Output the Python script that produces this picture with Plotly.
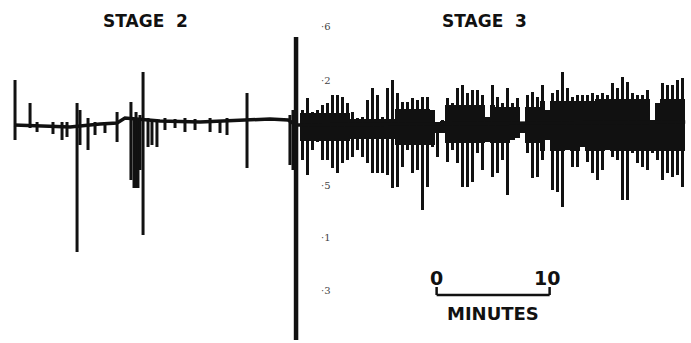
import numpy as np
import plotly.graph_objects as go

# ---------------- data (time in minutes, deflection in chart units) ----------------
# Stage 3: envelope per sampling bin (upper / lower deflection from baseline)
stage3_start_min = 25.53
stage3_bin_min = 0.4425
stage3_upper = [15, 27, 13, 15, 20, 22, 30, 30, 28, 22, 13, 7, 8, 25, 37, 30, 8, 37, 45, 32,
                23, 23, 27, 25, 28, 28, 15, 3, 5, 27, 22, 37, 40, 32, 35, 35, 30, 8, 40, 28,
                22, 37, 22, 27, 2, 30, 33, 28, 40, 15, 32, 35, 53, 37, 28, 30, 30, 30, 32, 30,
                32, 30, 42, 37, 48, 43, 32, 30, 30, 35, 5, 22, 42, 40, 40, 45, 47]
stage3_lower = [-35, -50, -25, -17, -35, -35, -43, -48, -38, -35, -32, -25, -32, -38, -48, -48, -48, -50, -63, -62,
                -42, -25, -48, -45, -85, -62, -22, -32, -8, -37, -25, -38, -62, -62, -57, -28, -45, -17, -52, -48,
                -35, -70, -15, -13, -8, -28, -53, -52, -35, -15, -65, -67, -82, -25, -42, -42, -22, -37, -48, -55,
                -45, -25, -32, -35, -75, -75, -28, -38, -42, -45, -28, -35, -55, -48, -52, -50, -62]

# Stage 3: solid core band of the trace, per stretch of record (start time, upper, lower)
core_t = [25.31, 29.73, 33.72, 37.26, 38.14, 42.57, 46.55, 51.42, 59.8]
core_upper = [12, 6, 16, 4, 20, 18, 24, 26]
core_lower = [-16, -14, -20, -8, -18, -18, -26, -26]

# Stage 2: isolated deflections (time, upper, lower)
stage2_t = [0.09, 1.42, 2.04, 3.45, 4.25, 4.69, 5.58, 5.84, 6.55, 7.17, 8.05, 9.12, 10.35, 10.62,
            10.80, 10.97, 11.15, 11.42, 11.86, 12.21, 12.65, 13.36, 14.25, 15.13, 16.02, 17.35,
            18.23, 18.85, 20.62, 24.42, 24.69]
stage2_upper = [45, 22, 3, 3, 3, 3, 22, 15, 7, 3, 3, 13, 23, 7, 13, 7, 10, 53, 7, 5, 5, 7, 6, 7, 6,
                7, 5, 7, 32, 10, 15]
stage2_lower = [-15, -3, -7, -9, -15, -12, -127, -20, -25, -10, -8, -17, -55, -63, -63, -63, -45, -110,
                -22, -20, -22, -5, -3, -7, -5, -7, -8, -10, -43, -40, -45]

# Resting baseline of the record
baseline_t = [0.0, 2.30, 4.96, 7.61, 9.12, 9.82, 12.92, 16.46, 20.0, 22.65, 24.25, 24.96, 59.4]
baseline_y = [0, -1, -2, 1, 2, 7, 4, 3, 5, 6, 5, 0, 3]

# Stage-change marker (large deflection)
marker_t = 24.96
marker_upper = 88
marker_lower = -215

# Faint scale numerals along the marker
scale_marks = ["·6", "·2", "·5", "·1", "·3"]
scale_mark_y = [99, 45, -60, -112, -165]

stage_labels = ["STAGE&nbsp;&nbsp;2", "STAGE&nbsp;&nbsp;3"]
stage_label_t = [11.68, 41.68]

scalebar_t0 = 37.4
scalebar_len = 10

# ---------------- figure ----------------
ink = "#111111"
bold_font = "DejaVu Sans, Verdana, sans-serif"
fig = go.Figure()

# baseline
fig.add_trace(go.Scatter(x=baseline_t, y=baseline_y, mode="lines",
                         line=dict(color=ink, width=3.5), hoverinfo="skip"))

# stage 2 spikes as vertical segments
sx, sy = [], []
for t, u, l in zip(stage2_t, stage2_upper, stage2_lower):
    sx += [t, t, None]
    sy += [l, u, None]
fig.add_trace(go.Scatter(x=sx, y=sy, mode="lines", line=dict(color=ink, width=3),
                         hoverinfo="skip"))

# stage 3: full excursions as pen strokes (bars with small gaps)
t3 = stage3_start_min + stage3_bin_min * np.arange(len(stage3_upper))
up = np.array(stage3_upper, dtype=float)
lo = np.array(stage3_lower, dtype=float)
fig.add_trace(go.Bar(x=t3, y=up - lo, base=lo, width=stage3_bin_min * 0.72,
                     marker=dict(color=ink, line=dict(width=0)), hoverinfo="skip"))

# stage 3: solid core (excursion limited to the core band of its stretch)
idx = np.searchsorted(core_t, t3, side="right") - 1
cu = np.minimum(up, np.array(core_upper)[idx])
cl = np.maximum(lo, np.array(core_lower)[idx])
fig.add_trace(go.Bar(x=t3, y=cu - cl, base=cl, width=stage3_bin_min * 1.02,
                     marker=dict(color=ink, line=dict(width=0)), hoverinfo="skip"))

# marker line
fig.add_trace(go.Scatter(x=[marker_t, marker_t], y=[marker_lower, marker_upper], mode="lines",
                         line=dict(color=ink, width=4.5), hoverinfo="skip"))

# stage titles
for lab, t in zip(stage_labels, stage_label_t):
    fig.add_annotation(x=t, y=104, text="<b>" + lab + "</b>", showarrow=False,
                       font=dict(family=bold_font, size=17, color=ink),
                       xanchor="center", yanchor="middle")

# faint numerals
for m, y in zip(scale_marks, scale_mark_y):
    fig.add_annotation(x=27.6, y=y, text=m, showarrow=False,
                       font=dict(family="DejaVu Serif, serif", size=10, color="#444444"))

# time scale bar
bar_y = -170
fig.add_shape(type="line", x0=scalebar_t0, x1=scalebar_t0 + scalebar_len, y0=bar_y, y1=bar_y,
              line=dict(color=ink, width=2.5))
for xx in (scalebar_t0, scalebar_t0 + scalebar_len):
    fig.add_shape(type="line", x0=xx, x1=xx, y0=bar_y, y1=bar_y + 8, line=dict(color=ink, width=2.5))
fig.add_annotation(x=scalebar_t0, y=-153, text="<b>0</b>", showarrow=False,
                   font=dict(family=bold_font, size=19, color=ink))
fig.add_annotation(x=scalebar_t0 + scalebar_len - 0.2, y=-153, text="<b>10</b>", showarrow=False,
                   font=dict(family=bold_font, size=19, color=ink))
fig.add_annotation(x=scalebar_t0 + scalebar_len / 2, y=-188, text="<b>MINUTES</b>", showarrow=False,
                   font=dict(family=bold_font, size=18, color=ink))

fig.update_layout(
    width=691, height=343, margin=dict(l=0, r=0, t=0, b=0),
    paper_bgcolor="white", plot_bgcolor="white", showlegend=False, bargap=0, barmode="overlay",
    xaxis=dict(range=[-14 / 11.3, 677 / 11.3], visible=False, fixedrange=True),
    yaxis=dict(range=[-218, 125], visible=False, fixedrange=True),
)

fig.write_html("out.html", config={"displayModeBar": False},
               post_script="document.body.style.margin='0';document.body.style.overflow='hidden';")
